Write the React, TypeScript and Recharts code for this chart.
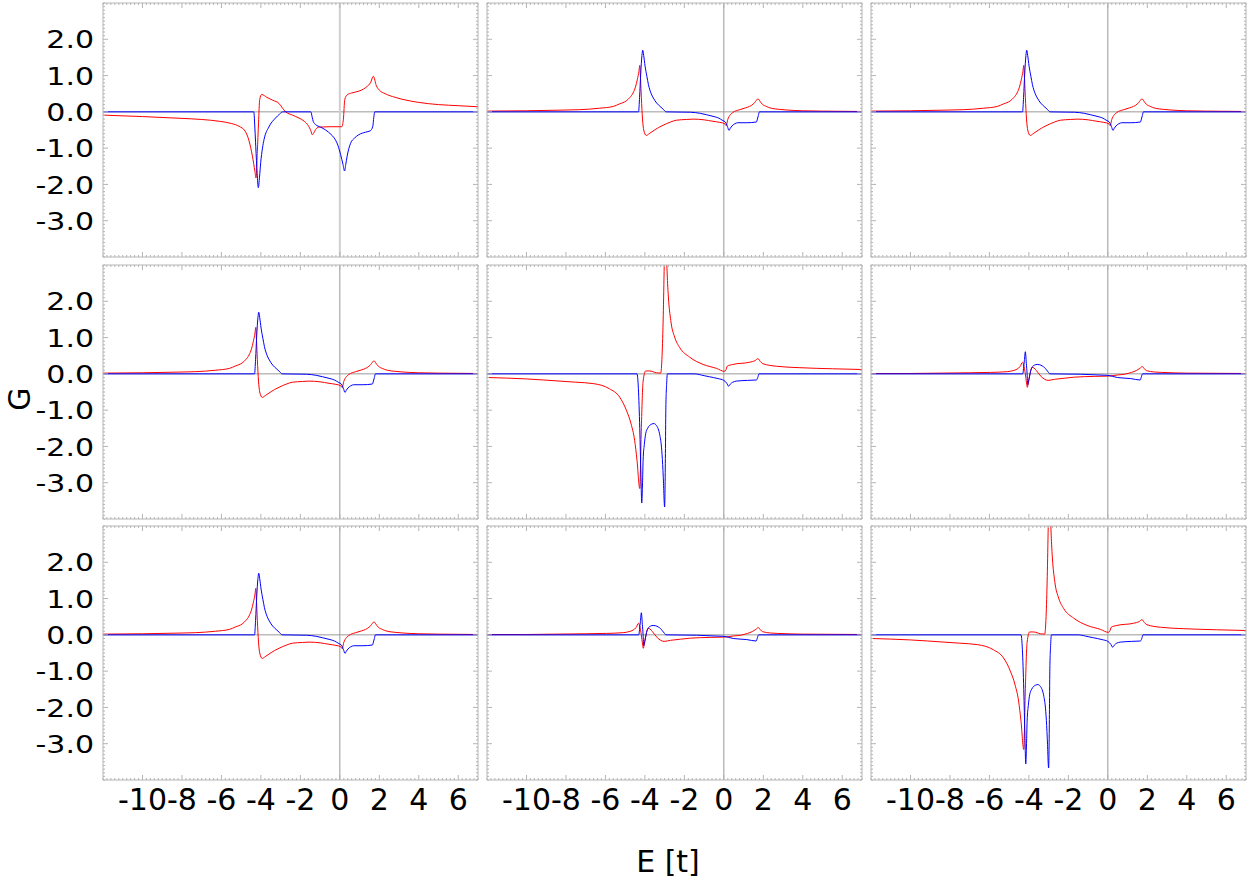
import React from 'react';
import { LineChart, Line, XAxis, YAxis } from 'recharts';

type Pt = [number, number];

// panel A: top left
const A_RED: Pt[] = [
  [-12, -0.09], [-10, -0.13], [-8, -0.18], [-7, -0.21], [-6.1, -0.26], [-5.5, -0.32], [-5.1, -0.4],
  [-4.8, -0.53], [-4.6, -0.8], [-4.43, -1.22], [-4.3, -1.65], [-4.25, -1.82], [-4.18, -1.1], [-4.12, -0.3],
  [-4.06, 0.34], [-3.96, 0.48], [-3.7, 0.4], [-3.4, 0.32], [-3.08, 0.23], [-2.9, 0.1], [-2.74, 0],
  [-2.4, -0.09], [-2.07, -0.17], [-1.8, -0.26], [-1.6, -0.38], [-1.47, -0.52], [-1.4, -0.63], [-1.32, -0.58],
  [-1.23, -0.49], [-1.06, -0.42], [-0.5, -0.41], [0.1, -0.41], [0.18, -0.2], [0.25, 0.34], [0.37, 0.47],
  [0.6, 0.52], [0.96, 0.57], [1.2, 0.63], [1.38, 0.7], [1.55, 0.8], [1.7, 0.98], [1.85, 0.72], [2.0, 0.6],
  [2.3, 0.5], [2.8, 0.4], [3.3, 0.33], [4, 0.26], [5, 0.2], [6, 0.17], [7, 0.14],
];
const A_BLUE: Pt[] = [
  [-12, 0], [-4.36, 0], [-4.3, -0.5], [-4.26, -0.95], [-4.19, -1.7], [-4.13, -2.09], [-4.07, -1.8],
  [-4.01, -1.4], [-3.92, -1.0], [-3.84, -0.76], [-3.6, -0.42], [-3.26, -0.17], [-3.05, -0.06], [-2.9, 0],
  [-1.47, 0], [-1.4, -0.15], [-1.35, -0.26], [-1.23, -0.35], [-0.98, -0.42], [-0.72, -0.5], [-0.45, -0.62],
  [-0.3, -0.71], [-0.1, -0.92], [0.04, -1.18], [0.16, -1.45], [0.24, -1.63], [0.3, -1.45], [0.37, -1.22],
  [0.54, -0.87], [0.75, -0.72], [0.96, -0.63], [1.3, -0.56], [1.55, -0.52], [1.67, -0.4], [1.72, -0.15],
  [1.77, 0], [7, 0],
];

// panel B: the one repeated four times
const B_RED: Pt[] = [
  [-12, 0.02], [-10, 0.03], [-8, 0.05], [-7.3, 0.06], [-6.3, 0.1], [-5.6, 0.15], [-5.28, 0.22], [-4.95, 0.3],
  [-4.77, 0.39], [-4.6, 0.52], [-4.48, 0.68], [-4.38, 0.9], [-4.3, 1.12], [-4.26, 1.28], [-4.22, 0.9],
  [-4.18, 0.4], [-4.12, -0.2], [-4.06, -0.5], [-3.93, -0.65], [-3.78, -0.6], [-3.59, -0.53], [-3.3, -0.43],
  [-3.08, -0.37], [-2.7, -0.28], [-2.4, -0.23], [-1.9, -0.21], [-1.56, -0.2], [-1, -0.22], [-0.55, -0.26],
  [-0.2, -0.29], [0.05, -0.33], [0.12, -0.38], [0.2, -0.21], [0.3, -0.1], [0.45, -0.02], [0.8, 0.06],
  [1.1, 0.11], [1.3, 0.15], [1.5, 0.22], [1.61, 0.29], [1.73, 0.36], [1.82, 0.3], [1.95, 0.21], [2.15, 0.15],
  [2.4, 0.1], [2.8, 0.07], [3.2, 0.05], [4, 0.03], [5, 0.02], [7, 0.01],
];
const B_BLUE: Pt[] = [
  [-12, 0], [-4.32, 0], [-4.27, 0.4], [-4.21, 1.07], [-4.15, 1.55], [-4.11, 1.7], [-4.06, 1.55],
  [-3.99, 1.26], [-3.9, 0.98], [-3.82, 0.75], [-3.68, 0.5], [-3.57, 0.38], [-3.4, 0.24], [-3.23, 0.15],
  [-3.05, 0.06], [-2.93, 0], [-1.7, -0.01], [-1.2, -0.04], [-0.87, -0.08], [-0.5, -0.13], [-0.27, -0.17],
  [-0.05, -0.24], [0.07, -0.28], [0.18, -0.4], [0.26, -0.51], [0.33, -0.45], [0.41, -0.39], [0.55, -0.33],
  [0.7, -0.3], [1.17, -0.3], [1.65, -0.28], [1.7, -0.2], [1.75, -0.1], [1.8, 0], [7, 0],
];

// panel C: big dips and spike
const C_RED: Pt[] = [
  [-12, -0.1], [-10, -0.14], [-8.3, -0.2], [-7.5, -0.23], [-6.6, -0.27], [-5.8, -0.41], [-5.28, -0.64],
  [-4.94, -1.0], [-4.7, -1.38], [-4.52, -1.83], [-4.4, -2.38], [-4.26, -3.16], [-4.18, -1.48], [-4.09, -0.2],
  [-3.96, 0.08], [-3.76, 0.08], [-3.42, 0.03], [-3.2, 0.02], [-3.13, 0.5], [-3.07, 1.6], [-3.02, 3.0],
  [-2.96, 4.6], [-2.9, 3.2], [-2.85, 2.5], [-2.81, 2.12], [-2.69, 1.47], [-2.49, 1.01], [-2.23, 0.72],
  [-1.73, 0.46], [-1.05, 0.26], [-0.37, 0.15], [0.02, 0.07], [0.1, 0.1], [0.17, 0.21], [0.46, 0.26],
  [1.3, 0.32], [1.6, 0.37], [1.73, 0.42], [1.85, 0.34], [1.98, 0.28], [2.66, 0.21], [3.85, 0.17],
  [5.5, 0.14], [7, 0.12],
];
const C_BLUE: Pt[] = [
  [-12, 0], [-4.4, 0], [-4.33, -0.4], [-4.26, -1.5], [-4.2, -2.8], [-4.16, -3.56], [-4.12, -3.0],
  [-4.09, -2.38], [-4.03, -1.95], [-3.96, -1.65], [-3.86, -1.5], [-3.76, -1.42], [-3.54, -1.37],
  [-3.42, -1.42], [-3.33, -1.51], [-3.24, -1.7], [-3.16, -2.02], [-3.1, -2.5], [-3.07, -2.84], [-3.0, -3.67],
  [-2.96, -2.2], [-2.94, -1.0], [-2.9, -0.3], [-2.86, 0], [-1.5, 0], [-1.0, -0.05], [-0.73, -0.08],
  [-0.3, -0.13], [0, -0.18], [0.15, -0.26], [0.24, -0.34], [0.33, -0.28], [0.45, -0.23], [0.63, -0.2],
  [1.2, -0.18], [1.65, -0.17], [1.72, -0.1], [1.78, 0], [7, 0],
];

// panel D: small wiggles
const D_RED: Pt[] = [
  [-12, 0.01], [-10, 0.01], [-8.5, 0.02], [-7, 0.03], [-5.94, 0.04], [-5.1, 0.06], [-4.8, 0.09], [-4.6, 0.13],
  [-4.45, 0.2], [-4.32, 0.32], [-4.25, 0.2], [-4.18, 0], [-4.12, -0.25], [-4.08, -0.37], [-4.03, -0.25],
  [-3.98, -0.1], [-3.9, 0.1], [-3.84, 0.18], [-3.74, 0.16], [-3.62, 0.09], [-3.37, -0.08], [-3.2, -0.15],
  [-3.03, -0.18], [-2.7, -0.15], [-2.2, -0.12], [-1.68, -0.09], [-0.67, -0.07], [0.04, -0.06], [0.5, -0.03],
  [0.85, -0.01], [1.2, 0.04], [1.44, 0.09], [1.62, 0.15], [1.75, 0.2], [1.85, 0.14], [1.95, 0.09],
  [2.37, 0.05], [2.71, 0.04], [4, 0.02], [7, 0.01],
];
const D_BLUE: Pt[] = [
  [-12, 0], [-4.31, 0], [-4.27, 0.15], [-4.23, 0.36], [-4.18, 0.61], [-4.13, 0.29], [-4.09, 0],
  [-4.06, -0.3], [-4.02, -0.22], [-3.97, -0.08], [-3.92, 0.06], [-3.84, 0.18], [-3.72, 0.24], [-3.58, 0.26],
  [-3.45, 0.25], [-3.33, 0.22], [-3.2, 0.17], [-3.11, 0.11], [-3.02, 0.05], [-2.94, 0], [-1.38, -0.01],
  [-0.5, -0.03], [-0.03, -0.04], [0.25, -0.07], [0.48, -0.1], [1.16, -0.13], [1.64, -0.17], [1.7, -0.08],
  [1.76, 0], [7, 0],
];

const PANEL_LAYOUT = [
  ['A', 'B', 'B'],
  ['B', 'C', 'D'],
  ['B', 'D', 'C'],
];

const X_DOMAIN = [-12, 7];
const Y_DOMAIN = [-4, 3];
const X_MAJOR = [-10, -8, -6, -4, -2, 0, 2, 4, 6];
const X_LABELS = ['-10', '-8', '-6', '-4', '-2', '0', '2', '4', '6'];
const Y_MAJOR = [-3, -2, -1, 0, 1, 2];
const Y_LABELS = ['-3.0', '-2.0', '-1.0', '0.0', '1.0', '2.0'];
const H_ZERO: Pt[] = [[-12, 0], [7, 0]];
const V_ZERO: Pt[] = [[0, -4], [0, 3]];

// minor tick positions (axis decoration only)
const X_TICKS: number[] = [];
for (let i = -60; i <= 35; i++) X_TICKS.push(i / 5);
const Y_TICKS: number[] = [];
for (let i = -40; i <= 30; i++) Y_TICKS.push(i / 10);

const toPts = (a: Pt[]) => a.map(([x, y]) => ({ x, y }));

const SETS: Record<string, { red: Pt[]; blue: Pt[] }> = {
  A: { red: A_RED, blue: A_BLUE },
  B: { red: B_RED, blue: B_BLUE },
  C: { red: C_RED, blue: C_BLUE },
  D: { red: D_RED, blue: D_BLUE },
};

const FONT = '"DejaVu Sans", sans-serif';
const FRAME = '#b4b4b4';
const PW = 375;
const PH = 254;
const ML = 100, MR = 4, MT = 2, MB = 42;
const COL_LEFT = [103, 487, 871];
const ROW_TOP = [3, 265, 526];

const xTick = (side: 'bottom' | 'top', showLabel: boolean) => (p: any) => {
  const v = p.payload.value;
  const idx = X_MAJOR.indexOf(v);
  const len = idx >= 0 ? 5 : 2;
  const d = side === 'bottom' ? -1 : 1;
  return (
    <g>
      <line x1={p.x} x2={p.x} y1={p.y} y2={p.y + d * len} stroke={FRAME} strokeWidth={1} />
      {showLabel && idx >= 0 ? (
        <text x={p.x} y={p.y + 30} textAnchor="middle" fontSize={30} fontFamily={FONT} fill="#000">
          {X_LABELS[idx]}
        </text>
      ) : null}
    </g>
  );
};

const yTick = (side: 'left' | 'right', showLabel: boolean) => (p: any) => {
  const v = p.payload.value;
  const idx = Y_MAJOR.indexOf(v);
  const len = idx >= 0 ? 5 : 2;
  const d = side === 'left' ? 1 : -1;
  return (
    <g>
      <line x1={p.x} x2={p.x + d * len} y1={p.y} y2={p.y} stroke={FRAME} strokeWidth={1} />
      {showLabel && idx >= 0 ? (
        <text
          transform={`translate(${p.x - 9},${p.y}) scale(1,0.83)`}
          x={0}
          y={11}
          textAnchor="end"
          fontSize={30}
          fontFamily={FONT}
          fill="#000"
        >
          {Y_LABELS[idx]}
        </text>
      ) : null}
    </g>
  );
};

function Panel({ row, col }: { row: number; col: number }) {
  const set = SETS[PANEL_LAYOUT[row][col]];
  const first = row === 0 && col === 0;
  const axisCommon = {
    type: 'number' as const,
    allowDataOverflow: true,
    interval: 0 as const,
    tickSize: 0,
    tickMargin: 0,
    tickLine: false,
    axisLine: { stroke: FRAME },
  };
  // axes take 1px each, so margins are 1px smaller
  return (
    <div style={{ position: 'absolute', left: COL_LEFT[col] - ML, top: ROW_TOP[row] - MT }}>
      <LineChart
        width={ML + PW + MR}
        height={MT + PH + MB}
        margin={{ top: MT - 1, right: MR - 1, bottom: MB - 1, left: ML - 1 }}
      >
        <XAxis {...axisCommon} dataKey="x" domain={X_DOMAIN} ticks={X_TICKS} height={1} tick={xTick('bottom', row === 2)} />
        <XAxis {...axisCommon} xAxisId="top" orientation="top" dataKey="x" domain={X_DOMAIN} ticks={X_TICKS} height={1} tick={xTick('top', false)} />
        <YAxis {...axisCommon} domain={Y_DOMAIN} ticks={Y_TICKS} width={1} tick={yTick('left', col === 0)} />
        <YAxis {...axisCommon} yAxisId="right" orientation="right" domain={Y_DOMAIN} ticks={Y_TICKS} width={1} tick={yTick('right', false)} />
        <Line data={toPts(H_ZERO)} dataKey="y" type="linear" stroke="#999" strokeWidth={1} dot={false} activeDot={false} isAnimationActive={false} />
        <Line
          data={toPts(V_ZERO)}
          dataKey="y"
          type="linear"
          stroke={first ? '#cfcfcf' : '#999'}
          strokeWidth={first ? 2 : 1}
          dot={false}
          activeDot={false}
          isAnimationActive={false}
        />
        <Line data={toPts(set.red)} dataKey="y" type="monotone" stroke="#ff0000" strokeWidth={1} dot={false} activeDot={false} isAnimationActive={false} />
        <Line data={toPts(set.blue)} dataKey="y" type="monotone" stroke="#0000ff" strokeWidth={1} dot={false} activeDot={false} isAnimationActive={false} />
      </LineChart>
    </div>
  );
}

export default function App() {
  return (
    <div style={{ position: 'absolute', left: 0, top: 0, width: 1250, height: 884, background: '#fff' }}>
      <svg width={1250} height={884} style={{ position: 'absolute', left: 0, top: 0 }}>
        <text transform="translate(30,399) rotate(-90)" textAnchor="middle" fontSize={30} fontFamily={FONT} fill="#000">
          G
        </text>
        <text x={668} y={872} textAnchor="middle" fontSize={30} fontFamily={FONT} fill="#000">
          E [t]
        </text>
      </svg>
      {[0, 1, 2].map((r) => [0, 1, 2].map((c) => <Panel key={`${r}-${c}`} row={r} col={c} />))}
    </div>
  );
}
